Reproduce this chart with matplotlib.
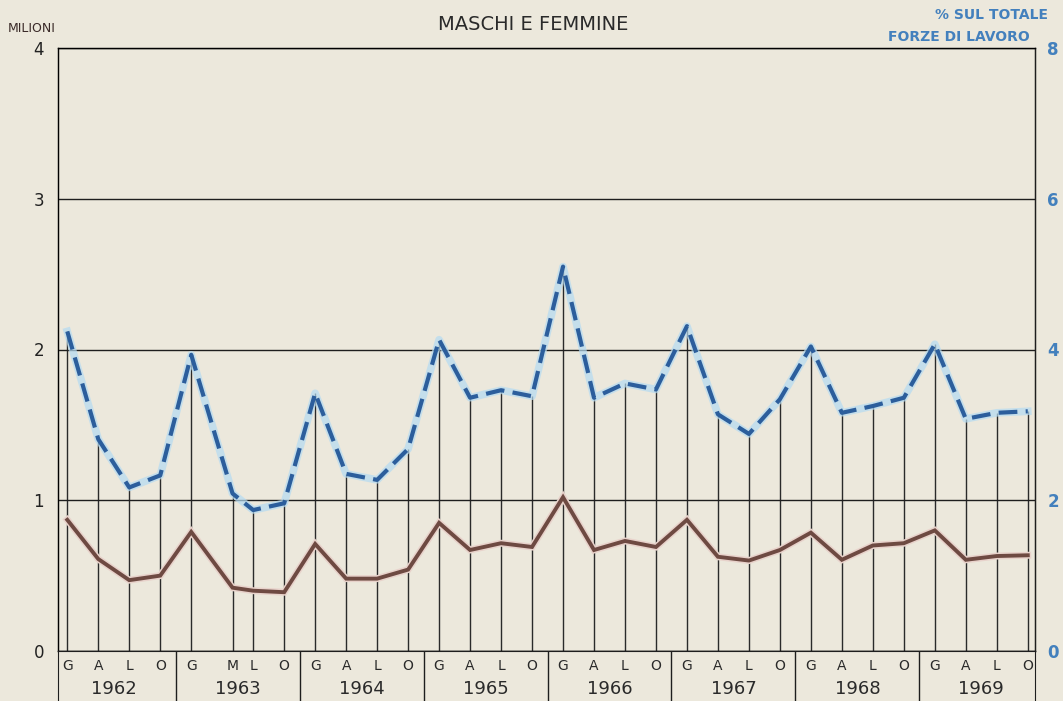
import matplotlib.pyplot as plt
import numpy as np

# dati trimestrali 1962-1969
anni = [1962, 1963, 1964, 1965, 1966, 1967, 1968, 1969]
lettere = ["G", "A", "L", "O", "G", "M", "L", "O", "G", "A", "L", "O",
           "G", "A", "L", "O", "G", "A", "L", "O", "G", "A", "L", "O",
           "G", "A", "L", "O", "G", "A", "L", "O"]
mese = [0, 3, 6, 9, 0, 4, 6, 9, 0, 3, 6, 9, 0, 3, 6, 9,
        0, 3, 6, 9, 0, 3, 6, 9, 0, 3, 6, 9, 0, 3, 6, 9]
anno_rilevazione = [a for a in anni for _ in range(4)]

milioni = [0.87, 0.61, 0.47, 0.50, 0.79, 0.42, 0.40, 0.39,
           0.71, 0.48, 0.48, 0.54, 0.85, 0.67, 0.715, 0.69,
           1.02, 0.67, 0.73, 0.69, 0.87, 0.625, 0.60, 0.67,
           0.785, 0.605, 0.70, 0.715, 0.80, 0.605, 0.63, 0.635]
percentuale = [4.24, 2.81, 2.17, 2.33, 3.93, 2.09, 1.87, 1.96,
               3.42, 2.35, 2.27, 2.68, 4.13, 3.36, 3.46, 3.38,
               5.10, 3.36, 3.55, 3.47, 4.31, 3.14, 2.88, 3.34,
               4.04, 3.16, 3.25, 3.36, 4.07, 3.08, 3.16, 3.18]

sfondo = '#ece8dc'
blu = '#2c5e9c'
blu_chiaro = '#b4dbf2'
marrone = '#6e4a42'
blu_testo = '#4380bd'

x = np.array([(a - 1962) * 12 + m for a, m in zip(anno_rilevazione, mese)])
perc = np.array(percentuale)

fig = plt.figure(figsize=(10.63, 7.01), dpi=100, facecolor=sfondo)
W, H = 1063, 701
ax = fig.add_axes([58 / W, 50 / H, 977 / W, 603 / H])
ax.set_facecolor(sfondo)
ax.set_xlim(-0.9, 93.7)
ax.set_ylim(0, 4)
ax.set_xticks([])
ax.set_yticks([0, 1, 2, 3, 4])
ax.tick_params(axis='y', length=0, pad=10, labelsize=12, labelcolor='#222222')
ax.grid(axis='y', color='#1e1e1e', linewidth=1.0)
for s in ax.spines.values():
    s.set_color('#1e1e1e')
    s.set_linewidth(1.0)

ax2 = ax.twinx()
ax2.set_ylim(0, 8)
ax2.set_yticks([0, 2, 4, 6, 8])
ax2.tick_params(axis='y', length=0, pad=9, labelsize=12, labelcolor=blu_testo)
for t in ax2.get_yticklabels():
    t.set_fontweight('bold')
ax2.spines['right'].set_color('#1e1e1e')

# linee verticali di riferimento
ax.vlines(x, 0, perc / 2, color='#2a2a2a', linewidth=1.0, zorder=1)

# marrone: milioni
ax.plot(x, milioni, color='#e8d2cb', linewidth=5, solid_joinstyle='miter', zorder=3)
ax.plot(x, milioni, color=marrone, linewidth=2.8, solid_joinstyle='miter', zorder=4)

# blu tratteggiato: % sul totale forze di lavoro
ax2.plot(x, percentuale, color=blu_chiaro, linewidth=5.5, alpha=0.7, zorder=3)
ax2.plot(x, percentuale, color=blu, linewidth=3.0, linestyle=(0, (4.5, 2.0)),
         dash_capstyle='butt', zorder=4)

# fascia inferiore con trimestri e anni
axb = fig.add_axes([58 / W, 0, 977 / W, 50 / H])
axb.set_facecolor(sfondo)
axb.set_xlim(-0.9, 93.7)
axb.set_ylim(0, 1)
axb.set_xticks([])
axb.set_yticks([])
axb.spines['bottom'].set_visible(False)
for s in ['top', 'left', 'right']:
    axb.spines[s].set_color('#1e1e1e')
confini = [k * 12 - 1.5 for k in range(1, len(anni))]
axb.vlines(confini, 0, 1, color='#1e1e1e', linewidth=1.0)
for xi, l in zip(x, lettere):
    axb.text(xi, 0.7, l, ha='center', va='center', fontsize=10, color='#2a2a2a')
for k, a in enumerate(anni):
    axb.text(k * 12 + 4.5, 0.24, str(a), ha='center', va='center', fontsize=13,
             color='#2a2a2a')

fig.text(8 / W, 1 - 28 / H, "MILIONI", fontsize=9, color='#3a2a28', va='center')
fig.text(533 / W, 1 - 25 / H, "MASCHI E FEMMINE", fontsize=14, ha='center',
         va='center', color='#2a2a2a')
fig.text(1048 / W, 1 - 15 / H, "% SUL TOTALE", fontsize=10, ha='right',
         va='center', color=blu_testo, fontweight='bold')
fig.text(1030 / W, 1 - 37 / H, "FORZE DI LAVORO", fontsize=10, ha='right',
         va='center', color=blu_testo, fontweight='bold')

fig.savefig('out.png', dpi=100, facecolor=sfondo)
